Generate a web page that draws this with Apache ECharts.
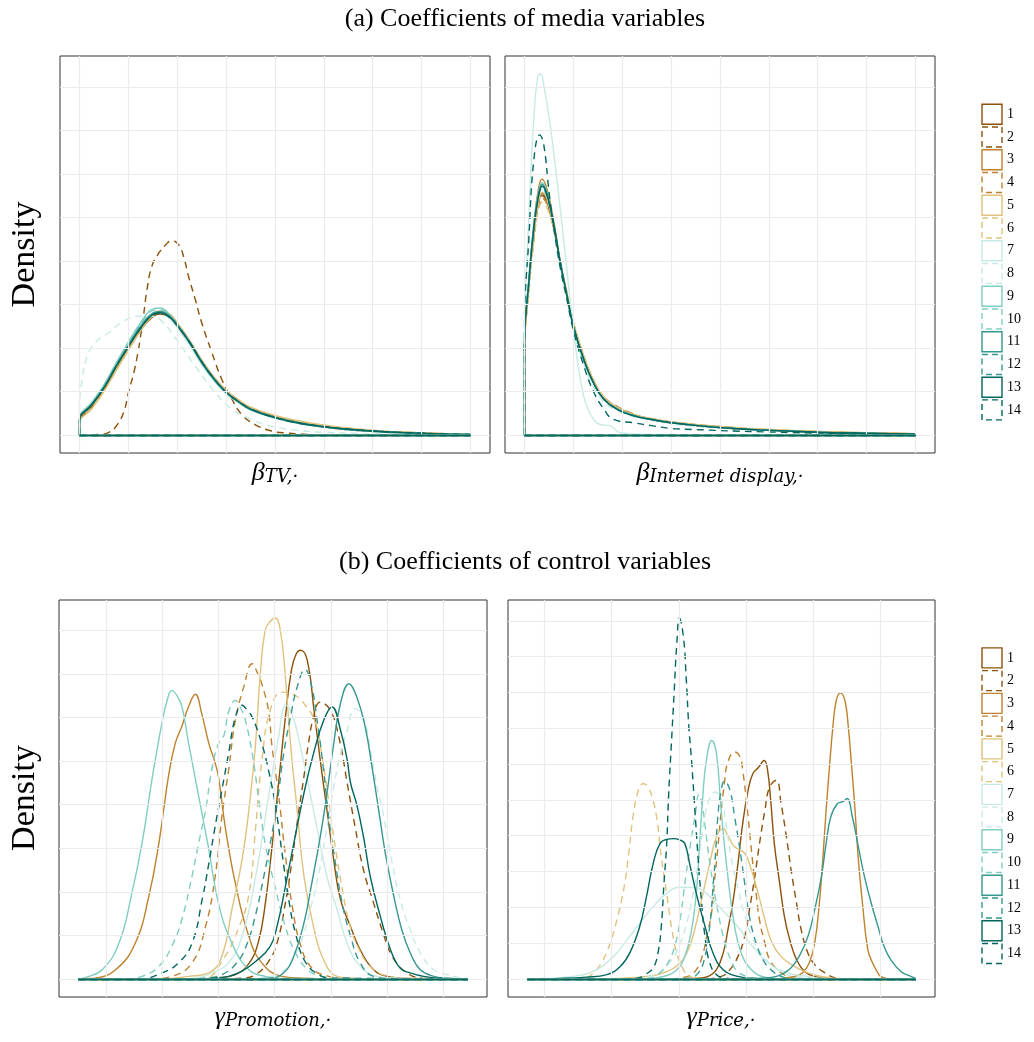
<!DOCTYPE html>
<html><head><meta charset="utf-8">
<script src="https://cdn.jsdelivr.net/npm/echarts@6/dist/echarts.min.js"></script>
<style>html,body{margin:0;padding:0;background:#fff}#c{width:1034px;height:1042px}</style>
</head><body><div id="c"></div>
<script>
// ---------- categories & colours ----------
const seriesNames = ['1','2','3','4','5','6','7','8','9','10','11','12','13','14'];
const seriesColors = ['#8C510A','#8C510A','#BF812D','#BF812D','#DFC27D','#DFC27D','#C7EAE5','#C7EAE5','#80CDC1','#80CDC1','#35978F','#35978F','#01665E','#01665E'];

// ---------- grid tick values (no labels shown) ----------
const a1GridX = [0,1,2,3,4,5,6,7,8];
const a1GridY = [0,1,2,3,4,5,6,7,8];
const a2GridX = [0,1,2,3,4,5,6,7,8];
const a2GridY = [0,1,2,3,4,5,6,7,8];
const b1GridX = [0,1,2,3,4,5,6];
const b1GridY = [0,1,2,3,4,5,6,7,8];
const b2GridX = [0,1,2,3,4,5];
const b2GridY = [0,1,2,3,4,5,6,7,8,9,10];

// ---------- panel A1 : beta TV ----------
const a1X = [0,0,0.25,0.5,0.75,1,1.25,1.5,1.65,1.85,2,2.25,2.5,2.75,3,3.25,3.5,4,4.5,5,5.5,6,6.5,7,7.5,8];
const a1S1  = [0,0.30,0.66,1.05,1.52,1.98,2.42,2.72,2.78,2.70,2.52,2.14,1.70,1.31,1.00,0.78,0.60,0.40,0.27,0.18,0.12,0.08,0.05,0.03,0.02,0.01];
const a1S3  = [0,0.28,0.62,1.02,1.50,1.96,2.40,2.74,2.82,2.74,2.56,2.17,1.72,1.33,1.03,0.81,0.63,0.43,0.30,0.21,0.14,0.10,0.07,0.05,0.03,0.02];
const a1S4  = [0,0.33,0.68,1.08,1.55,2.00,2.44,2.76,2.80,2.71,2.52,2.13,1.69,1.30,0.99,0.78,0.61,0.41,0.28,0.19,0.13,0.09,0.06,0.04,0.02,0.01];
const a1S5  = [0,0.26,0.60,1.00,1.48,1.95,2.40,2.76,2.86,2.78,2.58,2.18,1.72,1.32,1.02,0.81,0.64,0.45,0.32,0.23,0.16,0.11,0.07,0.05,0.03,0.02];
const a1S6  = [0,0.30,0.64,1.04,1.52,1.99,2.44,2.79,2.85,2.75,2.55,2.15,1.70,1.31,1.01,0.80,0.63,0.44,0.31,0.22,0.15,0.10,0.07,0.04,0.03,0.01];
const a1S7  = [0,0.40,0.76,1.16,1.64,2.10,2.52,2.80,2.82,2.66,2.46,2.06,1.61,1.24,0.95,0.74,0.57,0.38,0.26,0.18,0.12,0.08,0.05,0.03,0.02,0.01];
const a1S9  = [0,0.38,0.74,1.15,1.66,2.14,2.58,2.90,2.92,2.76,2.54,2.12,1.65,1.26,0.96,0.75,0.58,0.39,0.26,0.18,0.12,0.08,0.05,0.03,0.02,0.01];
const a1S10 = [0,0.36,0.72,1.12,1.62,2.10,2.54,2.86,2.88,2.74,2.53,2.12,1.66,1.27,0.97,0.76,0.59,0.40,0.27,0.18,0.12,0.08,0.05,0.03,0.02,0.01];
const a1S11 = [0,0.34,0.70,1.10,1.60,2.06,2.50,2.80,2.84,2.73,2.54,2.15,1.69,1.30,0.99,0.77,0.60,0.41,0.28,0.19,0.13,0.09,0.06,0.04,0.02,0.01];
const a1S12 = [0,0.32,0.68,1.08,1.57,2.03,2.46,2.77,2.81,2.72,2.53,2.14,1.68,1.29,0.98,0.77,0.60,0.40,0.27,0.19,0.13,0.09,0.06,0.04,0.02,0.01];
const a1S13 = [0,0.35,0.70,1.09,1.58,2.04,2.46,2.77,2.81,2.70,2.51,2.13,1.67,1.29,0.98,0.77,0.59,0.40,0.27,0.19,0.13,0.09,0.06,0.04,0.02,0.01];
const a1S14 = [0,0.33,0.69,1.08,1.57,2.03,2.45,2.76,2.80,2.70,2.51,2.13,1.68,1.29,0.98,0.77,0.60,0.40,0.27,0.19,0.13,0.09,0.06,0.04,0.02,0.01];
const a1X2  = [0,0.4,0.6,0.75,0.9,1.0,1.14,1.28,1.38,1.48,1.62,1.76,1.89,2.03,2.13,2.23,2.37,2.5,2.71,2.91,3.12,3.32,3.59,3.93,4.27,4.61,5,6,7,8];
const a1S2  = [0,0.01,0.06,0.2,0.51,0.97,1.58,2.5,3.34,3.88,4.18,4.37,4.47,4.37,4.1,3.65,3.11,2.58,1.89,1.28,0.82,0.47,0.24,0.09,0.04,0.015,0.005,0,0,0];
const a1X8  = [0,0,0.05,0.19,0.39,0.6,0.88,1.22,1.5,1.69,2.03,2.37,2.78,3.12,3.52,3.93,4.5,5,6,7,8];
const a1S8  = [0,0.5,1.25,1.9,2.2,2.35,2.6,2.73,2.73,2.61,2.12,1.58,0.97,0.59,0.36,0.2,0.1,0.06,0.03,0.015,0];

// ---------- panel A2 : beta Internet display ----------
const a2X = [0,0,0.088,0.19,0.29,0.36,0.46,0.6,0.73,0.87,1.0,1.21,1.41,1.62,1.89,2.23,2.57,3.0,3.59,4.27,4.95,5.63,6.31,6.99,8];
const a2S1  = [0,2.05,3.40,4.60,5.35,5.55,5.38,4.75,3.95,3.22,2.55,1.80,1.24,0.86,0.62,0.46,0.37,0.29,0.21,0.15,0.11,0.08,0.06,0.04,0.02];
const a2S2  = [0,2.00,3.35,4.55,5.30,5.50,5.36,4.76,3.98,3.25,2.57,1.82,1.26,0.88,0.66,0.48,0.36,0.28,0.21,0.15,0.11,0.08,0.06,0.04,0.02];
const a2S3  = [0,2.10,3.55,4.85,5.70,5.88,5.65,4.90,4.00,3.20,2.50,1.75,1.22,0.86,0.64,0.47,0.38,0.30,0.23,0.17,0.12,0.09,0.07,0.05,0.03];
const a2S4  = [0,1.95,3.30,4.50,5.25,5.45,5.30,4.72,3.96,3.24,2.56,1.80,1.25,0.87,0.63,0.47,0.38,0.30,0.22,0.16,0.12,0.09,0.06,0.04,0.03];
const a2S5  = [0,2.00,3.38,4.60,5.38,5.58,5.42,4.80,4.00,3.26,2.58,1.82,1.26,0.88,0.64,0.47,0.38,0.30,0.23,0.17,0.13,0.09,0.07,0.05,0.03];
const a2S6  = [0,1.90,3.25,4.45,5.20,5.35,5.22,4.70,3.98,3.28,2.60,1.84,1.27,0.88,0.63,0.46,0.37,0.29,0.22,0.16,0.12,0.09,0.06,0.04,0.03];
const a2S8  = [0,2.15,3.50,4.75,5.52,5.70,5.50,4.80,3.92,3.12,2.42,1.64,1.10,0.76,0.56,0.42,0.34,0.26,0.19,0.14,0.10,0.07,0.05,0.03,0.02];
const a2S9  = [0,2.20,3.60,4.85,5.62,5.80,5.58,4.85,3.97,3.18,2.48,1.72,1.18,0.82,0.60,0.45,0.36,0.28,0.21,0.15,0.11,0.08,0.05,0.04,0.02];
const a2S10 = [0,2.12,3.52,4.76,5.52,5.66,5.46,4.78,3.94,3.17,2.49,1.74,1.20,0.83,0.60,0.45,0.36,0.28,0.21,0.15,0.11,0.08,0.05,0.04,0.02];
const a2S11 = [0,2.15,3.55,4.80,5.58,5.76,5.55,4.84,3.98,3.20,2.50,1.74,1.20,0.83,0.60,0.45,0.36,0.28,0.21,0.15,0.11,0.08,0.05,0.04,0.02];
const a2S12 = [0,2.10,3.48,4.72,5.50,5.68,5.50,4.82,3.98,3.20,2.51,1.75,1.21,0.83,0.60,0.45,0.36,0.28,0.21,0.15,0.11,0.08,0.05,0.04,0.02];
const a2S13 = [0,2.12,3.50,4.75,5.52,5.72,5.52,4.82,3.97,3.19,2.50,1.74,1.20,0.82,0.59,0.44,0.36,0.28,0.21,0.15,0.11,0.08,0.05,0.04,0.02];
const a2X7  = [0,0,0.088,0.19,0.27,0.33,0.4,0.53,0.67,0.8,0.94,1.07,1.21,1.35,1.55,1.76,1.96,2.3,3,4,5,6,7,8];
const a2S7  = [0,2.2,5.0,7.3,8.23,8.3,8.0,7.09,5.79,4.49,3.04,1.8,0.9,0.47,0.24,0.21,0.05,0.02,0.01,0.005,0,0,0,0];
const a2X14 = [0,0,0.088,0.19,0.31,0.39,0.5,0.6,0.73,0.87,1.0,1.21,1.41,1.62,1.82,2.23,2.57,3.0,3.59,4.27,4.95,5.63,6.31,6.99,8];
const a2S14 = [0,2.5,4.51,6.32,6.9,6.7,5.6,4.75,3.85,3.1,2.4,1.6,1.0,0.6,0.36,0.28,0.22,0.15,0.12,0.09,0.07,0.05,0.04,0.03,0.015];

// ---------- panel B1 : gamma Promotion ([x, density]) ----------
const b1S1  = [[-0.49,0],[1.6,0],[2.0,0.03],[2.3,0.1],[2.54,0.35],[2.71,0.85],[2.83,1.7],[2.95,3.0],[3.07,4.5],[3.19,6.0],[3.3,7.1],[3.38,7.45],[3.46,7.54],[3.58,7.31],[3.7,6.16],[3.81,5.02],[3.93,3.87],[4.05,2.73],[4.17,1.82],[4.35,1.2],[4.52,0.67],[4.76,0.21],[5.0,0.06],[5.4,0.01],[6.43,0]];
const b1S2  = [[-0.49,0],[2.0,0],[2.42,0.02],[2.66,0.1],[2.89,0.4],[3.04,0.82],[3.19,1.74],[3.31,2.73],[3.43,3.87],[3.52,4.64],[3.6,5.4],[3.69,6.0],[3.81,6.35],[3.99,6.16],[4.14,5.56],[4.29,4.49],[4.43,3.49],[4.58,2.5],[4.76,1.74],[4.91,1.13],[5.09,0.52],[5.35,0.14],[5.62,0.02],[6.0,0],[6.43,0]];
const b1S3  = [[-0.49,0],[-0.3,0.01],[-0.19,0.02],[0.17,0.21],[0.52,0.82],[0.76,1.89],[0.94,3.11],[1.11,4.64],[1.23,5.4],[1.35,5.8],[1.47,6.25],[1.59,6.53],[1.7,6.1],[1.83,5.4],[1.93,5.0],[2.0,4.64],[2.12,3.49],[2.3,2.2],[2.54,0.98],[2.77,0.37],[3.13,0.06],[3.49,0.02],[4.0,0],[6.43,0]];
const b1S4  = [[-0.49,0],[0.8,0],[1.17,0.06],[1.53,0.37],[1.77,1.2],[1.94,2.34],[2.06,3.72],[2.18,4.79],[2.3,5.93],[2.45,6.7],[2.6,7.23],[2.7,7.0],[2.77,6.77],[2.89,6.16],[2.95,5.36],[3.07,4.22],[3.19,2.84],[3.31,1.69],[3.46,0.78],[3.66,0.25],[3.96,0.06],[4.3,0.01],[6.43,0]];
const b1S5  = [[-0.49,0],[1.0,0],[1.47,0.06],[1.83,0.14],[2.06,0.52],[2.24,1.6],[2.42,2.74],[2.54,3.87],[2.66,5.4],[2.74,6.93],[2.83,8.0],[2.92,8.2],[3.01,8.28],[3.1,8.0],[3.19,6.93],[3.28,5.4],[3.4,3.87],[3.52,2.36],[3.69,1.2],[3.87,0.44],[4.11,0.06],[4.35,0.02],[5.0,0],[6.43,0]];
const b1S6  = [[-0.49,0],[1.3,0],[1.77,0.02],[2.06,0.4],[2.36,1.17],[2.54,1.93],[2.66,3.46],[2.77,4.98],[2.92,6.16],[3.13,6.58],[3.37,6.5],[3.52,6.32],[3.72,5.9],[3.84,5.13],[3.96,4.07],[4.08,3.0],[4.2,2.08],[4.32,1.32],[4.49,0.71],[4.73,0.25],[5.03,0.06],[5.4,0.01],[6.43,0]];
const b1S7  = [[-0.49,0],[1.2,0],[1.59,0.02],[1.89,0.14],[2.18,0.37],[2.42,0.98],[2.66,2.34],[2.89,4.18],[3.07,5.56],[3.2,6.28],[3.3,6.1],[3.4,5.67],[3.57,4.64],[3.75,3.49],[3.93,2.34],[4.11,1.6],[4.29,0.82],[4.52,0.29],[4.82,0.06],[5.17,0.02],[5.6,0],[6.43,0]];
const b1S8  = [[-0.49,0],[2.4,0],[2.77,0.02],[3.1,0.14],[3.28,0.37],[3.46,0.82],[3.63,1.57],[3.81,2.58],[3.93,3.49],[4.05,4.4],[4.17,5.17],[4.29,5.7],[4.43,6.2],[4.58,6.0],[4.7,5.25],[4.82,4.41],[4.94,3.72],[5.09,2.66],[5.23,1.82],[5.41,1.13],[5.59,0.6],[5.83,0.21],[6.06,0.1],[6.25,0.04],[6.43,0.01]];
const b1S9  = [[-0.49,0],[-0.43,0.01],[-0.37,0.03],[-0.07,0.21],[0.23,0.82],[0.46,1.97],[0.64,3.11],[0.82,4.6],[0.9,5.2],[1.0,5.9],[1.1,6.45],[1.17,6.62],[1.26,6.5],[1.35,6.25],[1.47,5.4],[1.65,4.18],[1.83,2.96],[2.0,1.74],[2.24,0.82],[2.54,0.21],[2.83,0.06],[3.13,0.01],[6.43,0]];
const b1S10 = [[-0.49,0],[0.3,0],[0.64,0.06],[0.94,0.29],[1.17,0.75],[1.35,1.37],[1.53,2.36],[1.65,3.13],[1.77,3.87],[1.89,4.87],[2.0,5.4],[2.1,5.6],[2.18,6.13],[2.3,6.39],[2.4,6.2],[2.48,5.93],[2.6,5.17],[2.71,4.18],[2.83,3.11],[3.01,2.1],[3.19,1.2],[3.37,0.6],[3.6,0.2],[3.84,0.06],[4.2,0.01],[6.43,0]];
const b1S11 = [[-0.49,0],[2.4,0],[2.66,0.005],[2.92,0.02],[3.16,0.14],[3.34,0.52],[3.52,1.28],[3.66,2.2],[3.81,3.26],[3.93,4.26],[4.05,5.4],[4.17,6.32],[4.32,6.77],[4.46,6.47],[4.61,5.78],[4.73,4.87],[4.85,3.87],[4.97,2.87],[5.12,1.89],[5.26,1.13],[5.41,0.6],[5.59,0.21],[5.83,0.06],[6.06,0.02],[6.43,0]];
const b1S12 = [[-0.49,0],[1.4,0],[1.77,0.02],[2.06,0.1],[2.3,0.33],[2.48,0.71],[2.66,1.47],[2.8,2.31],[2.92,3.11],[3.04,4.0],[3.16,5.17],[3.28,6.0],[3.4,6.7],[3.54,7.1],[3.66,6.7],[3.75,5.98],[3.87,4.79],[3.96,3.72],[4.08,2.66],[4.2,1.74],[4.35,0.98],[4.52,0.37],[4.76,0.06],[5.1,0.01],[6.43,0]];
const b1S13 = [[-0.49,0],[1.5,0],[1.94,0.02],[2.18,0.06],[2.42,0.18],[2.66,0.4],[2.92,0.75],[3.04,1.2],[3.19,2.12],[3.34,3.11],[3.52,4.26],[3.69,5.17],[3.87,5.93],[4.02,6.24],[4.17,5.71],[4.29,5.02],[4.35,4.49],[4.46,4.0],[4.58,3.26],[4.7,2.35],[4.88,1.43],[5.06,0.67],[5.23,0.25],[5.41,0.14],[5.65,0.06],[6.0,0.01],[6.43,0]];
const b1S14 = [[-0.49,0],[0.6,0],[1.0,0.14],[1.29,0.37],[1.53,0.82],[1.71,1.82],[1.83,2.66],[1.94,3.49],[2.06,4.33],[2.18,5.17],[2.3,6.0],[2.42,6.28],[2.52,6.15],[2.6,6.01],[2.77,5.4],[2.89,4.79],[3.01,4.0],[3.13,2.9],[3.25,1.82],[3.37,1.05],[3.54,0.4],[3.78,0.1],[4.02,0.02],[6.43,0]];

// ---------- panel B2 : gamma Price ([x, density]) ----------
const b2S1  = [[-0.25,0],[2.0,0],[2.29,0.02],[2.44,0.07],[2.56,0.26],[2.66,0.72],[2.73,1.37],[2.81,2.21],[2.88,3.23],[2.95,4.34],[3.03,5.27],[3.1,5.73],[3.18,5.9],[3.27,6.1],[3.32,5.83],[3.37,4.9],[3.42,3.78],[3.5,2.67],[3.57,1.74],[3.65,1.09],[3.75,0.54],[3.87,0.21],[4.02,0.07],[4.2,0.01],[5.52,0]];
const b2S2  = [[-0.25,0],[2.3,0],[2.63,0.07],[2.76,0.26],[2.88,0.63],[2.98,1.19],[3.05,1.93],[3.13,2.86],[3.2,3.78],[3.28,4.71],[3.35,5.36],[3.45,5.55],[3.52,4.9],[3.6,3.97],[3.67,3.04],[3.75,2.12],[3.82,1.37],[3.92,0.72],[4.02,0.4],[4.14,0.21],[4.29,0.05],[4.45,0],[5.52,0]];
const b2S3  = [[-0.25,0],[3.4,0],[3.72,0.07],[3.84,0.17],[3.94,0.45],[4.02,1.0],[4.09,2.12],[4.14,3.32],[4.19,4.71],[4.24,5.92],[4.29,7.03],[4.34,7.77],[4.4,7.99],[4.47,7.77],[4.52,7.03],[4.57,5.92],[4.62,4.71],[4.67,3.32],[4.73,2.12],[4.81,0.82],[4.88,0.45],[4.96,0.17],[5.0,0.07],[5.1,0.01],[5.52,0]];
const b2S4  = [[-0.25,0],[1.8,0],[2.09,0.05],[2.24,0.21],[2.34,0.58],[2.41,1.14],[2.49,1.88],[2.53,2.72],[2.58,3.65],[2.63,4.67],[2.68,5.5],[2.73,6.06],[2.83,6.34],[2.91,6.2],[2.95,5.83],[3.0,5.08],[3.05,4.16],[3.1,3.23],[3.15,2.39],[3.2,1.65],[3.28,1.0],[3.35,0.54],[3.47,0.26],[3.62,0.07],[3.8,0.01],[5.52,0]];
const b2S5  = [[-0.25,0],[0.8,0],[1.15,0.02],[1.52,0.07],[1.77,0.17],[2.02,0.45],[2.16,0.91],[2.26,1.56],[2.36,2.39],[2.46,3.23],[2.56,3.97],[2.66,4.2],[2.73,4.0],[2.83,3.69],[2.98,3.51],[3.08,3.04],[3.18,2.39],[3.28,1.65],[3.37,1.09],[3.52,0.63],[3.72,0.35],[3.92,0.17],[4.12,0.07],[4.4,0.01],[5.52,0]];
const b2S6  = [[-0.25,0],[0.4,0],[0.61,0.02],[0.73,0.17],[0.85,0.45],[0.98,1.0],[1.08,1.65],[1.18,2.49],[1.25,3.41],[1.32,4.53],[1.4,5.27],[1.47,5.45],[1.53,5.4],[1.6,5.1],[1.67,4.53],[1.74,3.41],[1.82,2.39],[1.89,1.47],[1.97,0.72],[2.07,0.26],[2.16,0.07],[2.3,0.02],[2.5,0],[5.52,0]];
const b2S7  = [[-0.25,0],[-0.08,0.01],[0.43,0.07],[0.78,0.26],[1.03,0.63],[1.23,1.09],[1.42,1.56],[1.62,2.02],[1.82,2.39],[2.02,2.56],[2.26,2.55],[2.41,2.39],[2.61,2.0],[2.88,1.45],[3.08,0.95],[3.33,0.45],[3.62,0.17],[3.92,0.07],[4.16,0.01],[4.5,0],[5.52,0]];
const b2S8  = [[-0.25,0],[1.1,0],[1.4,0.03],[1.65,0.12],[1.84,0.4],[1.99,0.86],[2.11,1.51],[2.21,2.35],[2.29,3.27],[2.36,4.2],[2.44,4.94],[2.54,5.22],[2.63,5.04],[2.71,4.2],[2.78,3.37],[2.88,2.53],[2.98,1.79],[3.1,1.14],[3.28,0.58],[3.47,0.26],[3.72,0.07],[3.97,0.03],[4.3,0],[5.52,0]];
const b2S9  = [[-0.25,0],[1.4,0],[1.77,0.07],[1.97,0.26],[2.09,0.63],[2.19,1.37],[2.26,2.39],[2.31,3.78],[2.36,5.18],[2.41,6.1],[2.49,6.66],[2.56,6.3],[2.63,4.7],[2.73,2.85],[2.83,1.47],[2.93,0.72],[3.08,0.26],[3.28,0.05],[3.6,0],[5.52,0]];
const b2S10 = [[-0.25,0],[1.3,0],[1.6,0.03],[1.72,0.17],[1.84,0.45],[1.94,0.91],[2.02,1.65],[2.09,2.67],[2.16,3.6],[2.24,4.53],[2.3,5.15],[2.36,4.71],[2.41,3.97],[2.48,3.0],[2.58,1.9],[2.68,1.05],[2.78,0.5],[2.88,0.2],[3.03,0.06],[3.18,0.02],[3.5,0],[5.52,0]];
const b2S11 = [[-0.25,0],[3.0,0],[3.2,0.02],[3.4,0.05],[3.52,0.12],[3.67,0.31],[3.79,0.63],[3.92,1.19],[4.02,1.93],[4.12,2.86],[4.19,3.78],[4.26,4.53],[4.36,4.9],[4.44,4.95],[4.5,5.04],[4.58,4.53],[4.66,3.78],[4.76,2.86],[4.86,2.12],[4.96,1.47],[5.05,0.91],[5.15,0.54],[5.3,0.21],[5.45,0.07],[5.52,0.02]];
const b2S12 = [[-0.25,0],[1.8,0],[2.14,0.02],[2.29,0.17],[2.39,0.63],[2.46,1.47],[2.51,2.58],[2.55,3.6],[2.58,4.53],[2.63,5.27],[2.68,5.53],[2.76,5.27],[2.83,4.53],[2.91,3.6],[2.98,2.67],[3.05,1.74],[3.15,1.0],[3.25,0.54],[3.37,0.26],[3.52,0.07],[3.7,0.01],[5.52,0]];
const b2S13 = [[-0.25,0],[0.0,0.005],[0.16,0.01],[0.63,0.05],[0.93,0.12],[1.13,0.35],[1.27,0.72],[1.42,1.47],[1.52,2.3],[1.62,3.23],[1.72,3.78],[1.82,3.9],[1.92,3.92],[2.02,3.88],[2.09,3.78],[2.16,3.23],[2.26,2.39],[2.39,1.47],[2.51,0.72],[2.66,0.26],[2.88,0.07],[3.13,0.01],[3.5,0],[5.52,0]];
const b2S14 = [[-0.25,0],[1.2,0],[1.4,0.03],[1.5,0.12],[1.62,0.31],[1.69,0.72],[1.74,1.46],[1.78,2.67],[1.82,3.76],[1.85,5.17],[1.89,6.57],[1.93,7.96],[1.97,9.35],[2.01,10.08],[2.07,9.54],[2.11,8.42],[2.15,7.03],[2.19,6.1],[2.24,4.7],[2.29,3.31],[2.34,2.11],[2.39,1.18],[2.46,0.45],[2.56,0.12],[2.68,0.03],[2.9,0],[5.52,0]];

// ---------- assemble ----------
const zip = (xs, ys) => xs.map((x, i) => [x, ys[i]]);
const a1Curves = [zip(a1X,a1S1), zip(a1X2,a1S2), zip(a1X,a1S3), zip(a1X,a1S4), zip(a1X,a1S5), zip(a1X,a1S6), zip(a1X,a1S7),
                  zip(a1X8,a1S8), zip(a1X,a1S9), zip(a1X,a1S10), zip(a1X,a1S11), zip(a1X,a1S12), zip(a1X,a1S13), zip(a1X,a1S14)];
const a2Curves = [zip(a2X,a2S1), zip(a2X,a2S2), zip(a2X,a2S3), zip(a2X,a2S4), zip(a2X,a2S5), zip(a2X,a2S6), zip(a2X7,a2S7),
                  zip(a2X,a2S8), zip(a2X,a2S9), zip(a2X,a2S10), zip(a2X,a2S11), zip(a2X,a2S12), zip(a2X,a2S13), zip(a2X14,a2S14)];
const b1Curves = [b1S1,b1S2,b1S3,b1S4,b1S5,b1S6,b1S7,b1S8,b1S9,b1S10,b1S11,b1S12,b1S13,b1S14];
const b2Curves = [b2S1,b2S2,b2S3,b2S4,b2S5,b2S6,b2S7,b2S8,b2S9,b2S10,b2S11,b2S12,b2S13,b2S14];

const extent = (curves, k) => {
  let lo = Infinity, hi = -Infinity;
  curves.forEach(c => c.forEach(p => { lo = Math.min(lo, p[k]); hi = Math.max(hi, p[k]); }));
  return [lo, hi];
};
const expand = ([lo, hi]) => { const d = (hi - lo) * 0.05; return [lo - d, hi + d]; };

const rowAy = expand([0, Math.max(extent(a1Curves,1)[1], extent(a2Curves,1)[1])]);
const panels = [
  { box:{left:60, top:56, width:430, height:397}, curves:a1Curves, gx:a1GridX, gy:a1GridY, xr:extent(a1Curves,0), yr:rowAy },
  { box:{left:505, top:56, width:430, height:397}, curves:a2Curves, gx:a2GridX, gy:a2GridY, xr:extent(a2Curves,0), yr:rowAy },
  { box:{left:59, top:600, width:428, height:397}, curves:b1Curves, gx:b1GridX, gy:b1GridY, xr:extent(b1Curves,0), yr:expand([0, extent(b1Curves,1)[1]]) },
  { box:{left:508, top:600, width:427, height:397}, curves:b2Curves, gx:b2GridX, gy:b2GridY, xr:extent(b2Curves,0), yr:expand([0, extent(b2Curves,1)[1]]) }
];

const FONT = '"Liberation Serif", "DejaVu Serif", serif';
const SUBFONT = '"DejaVu Serif", "Liberation Serif", serif';
const dash = [7, 5];
const grids = [], xAxes = [], yAxes = [], series = [];
panels.forEach((p, pi) => {
  grids.push(Object.assign({ show:true, borderColor:'#333333', borderWidth:1, backgroundColor:'#ffffff', containLabel:false }, p.box));
  const xe = expand(p.xr);
  xAxes.push({ type:'value', gridIndex:pi, min:xe[0], max:xe[1], axisLine:{show:false}, axisTick:{show:false}, axisLabel:{show:false}, splitLine:{show:false} });
  yAxes.push({ type:'value', gridIndex:pi, min:p.yr[0], max:p.yr[1], axisLine:{show:false}, axisTick:{show:false}, axisLabel:{show:false}, splitLine:{show:false} });
  // background grid lines
  series.push({
    type:'line', xAxisIndex:pi, yAxisIndex:pi, data:[[p.xr[0],0]], symbol:'none', silent:true, z:1,
    lineStyle:{opacity:0}, tooltip:{show:false},
    markLine:{ silent:true, symbol:['none','none'], label:{show:false}, animation:false,
      lineStyle:{ color:'#ebebeb', width:1.2, type:'solid' },
      emphasis:{disabled:true},
      data:[...p.gx.map(v => ({xAxis:v})), ...p.gy.map(v => ({yAxis:v}))] }
  });
  p.curves.forEach((d, i) => {
    const ls = { color:seriesColors[i], width:1.4, type: i % 2 ? dash : 'solid' };
    series.push({
      type:'line', name:seriesNames[i], xAxisIndex:pi, yAxisIndex:pi, data:d,
      symbol:'none', showSymbol:false, smooth:0.45, z:2, silent:true,
      lineStyle:ls, itemStyle:{color:seriesColors[i]}, emphasis:{disabled:true},
      markLine:{ silent:true, symbol:['none','none'], label:{show:false}, animation:false, emphasis:{disabled:true},
        lineStyle:ls, data:[[{coord:[p.xr[0],0]},{coord:[p.xr[1],0]}]] }
    });
  });
});

const legendData = seriesNames.map((n, i) => ({
  name:n, icon:'rect',
  itemStyle:{ color:'rgba(0,0,0,0)', borderColor:seriesColors[i], borderWidth:1.4, borderType: i % 2 ? [6,4] : 'solid' }
}));
const legendBase = { orient:'vertical', left:981.3, padding:0, itemWidth:20, itemHeight:20, itemGap:1.34, selectedMode:false,
  textStyle:{ fontFamily:FONT, fontSize:14, color:'#000' }, data:legendData };

const mathLabel = (x, y, main, sub) => ({
  type:'text', x:x, y:y, silent:true,
  style:{ text:'{m|' + main + '}{s|' + sub + '}', textAlign:'center', textVerticalAlign:'middle',
    rich:{ m:{ fontFamily:FONT, fontStyle:'italic', fontSize:26, fill:'#000', lineHeight:30, verticalAlign:'bottom' },
           s:{ fontFamily:SUBFONT, fontStyle:'italic', fontSize:18, fill:'#000', lineHeight:20, verticalAlign:'bottom' } } }
});

const option = {
  animation:false,
  backgroundColor:'#ffffff',
  grid:grids, xAxis:xAxes, yAxis:yAxes, series:series,
  legend:[ Object.assign({ top:103.6 }, legendBase), Object.assign({ top:647.2 }, legendBase) ],
  graphic:[
    { type:'text', x:525, y:19.5, silent:true, style:{ text:'(a) Coefficients of media variables', fontFamily:FONT, fontSize:26, fill:'#000', textAlign:'center', textVerticalAlign:'middle' } },
    { type:'text', x:525, y:562.5, silent:true, style:{ text:'(b) Coefficients of control variables', fontFamily:FONT, fontSize:26, fill:'#000', textAlign:'center', textVerticalAlign:'middle' } },
    { type:'text', x:25, y:254.5, rotation:Math.PI/2, silent:true, style:{ text:'Density', fontFamily:FONT, fontSize:34, fill:'#000', textAlign:'center', textVerticalAlign:'middle' } },
    { type:'text', x:25, y:798, rotation:Math.PI/2, silent:true, style:{ text:'Density', fontFamily:FONT, fontSize:34, fill:'#000', textAlign:'center', textVerticalAlign:'middle' } },
    mathLabel(275, 471, 'β', 'TV,·'),
    mathLabel(720, 471, 'β', 'Internet display,·'),
    mathLabel(273, 1015, 'γ', 'Promotion,·'),
    mathLabel(721, 1015, 'γ', 'Price,·')
  ]
};

const chart = echarts.init(document.getElementById('c'), null, { renderer:'canvas' });
chart.setOption(option);
</script></body></html>
